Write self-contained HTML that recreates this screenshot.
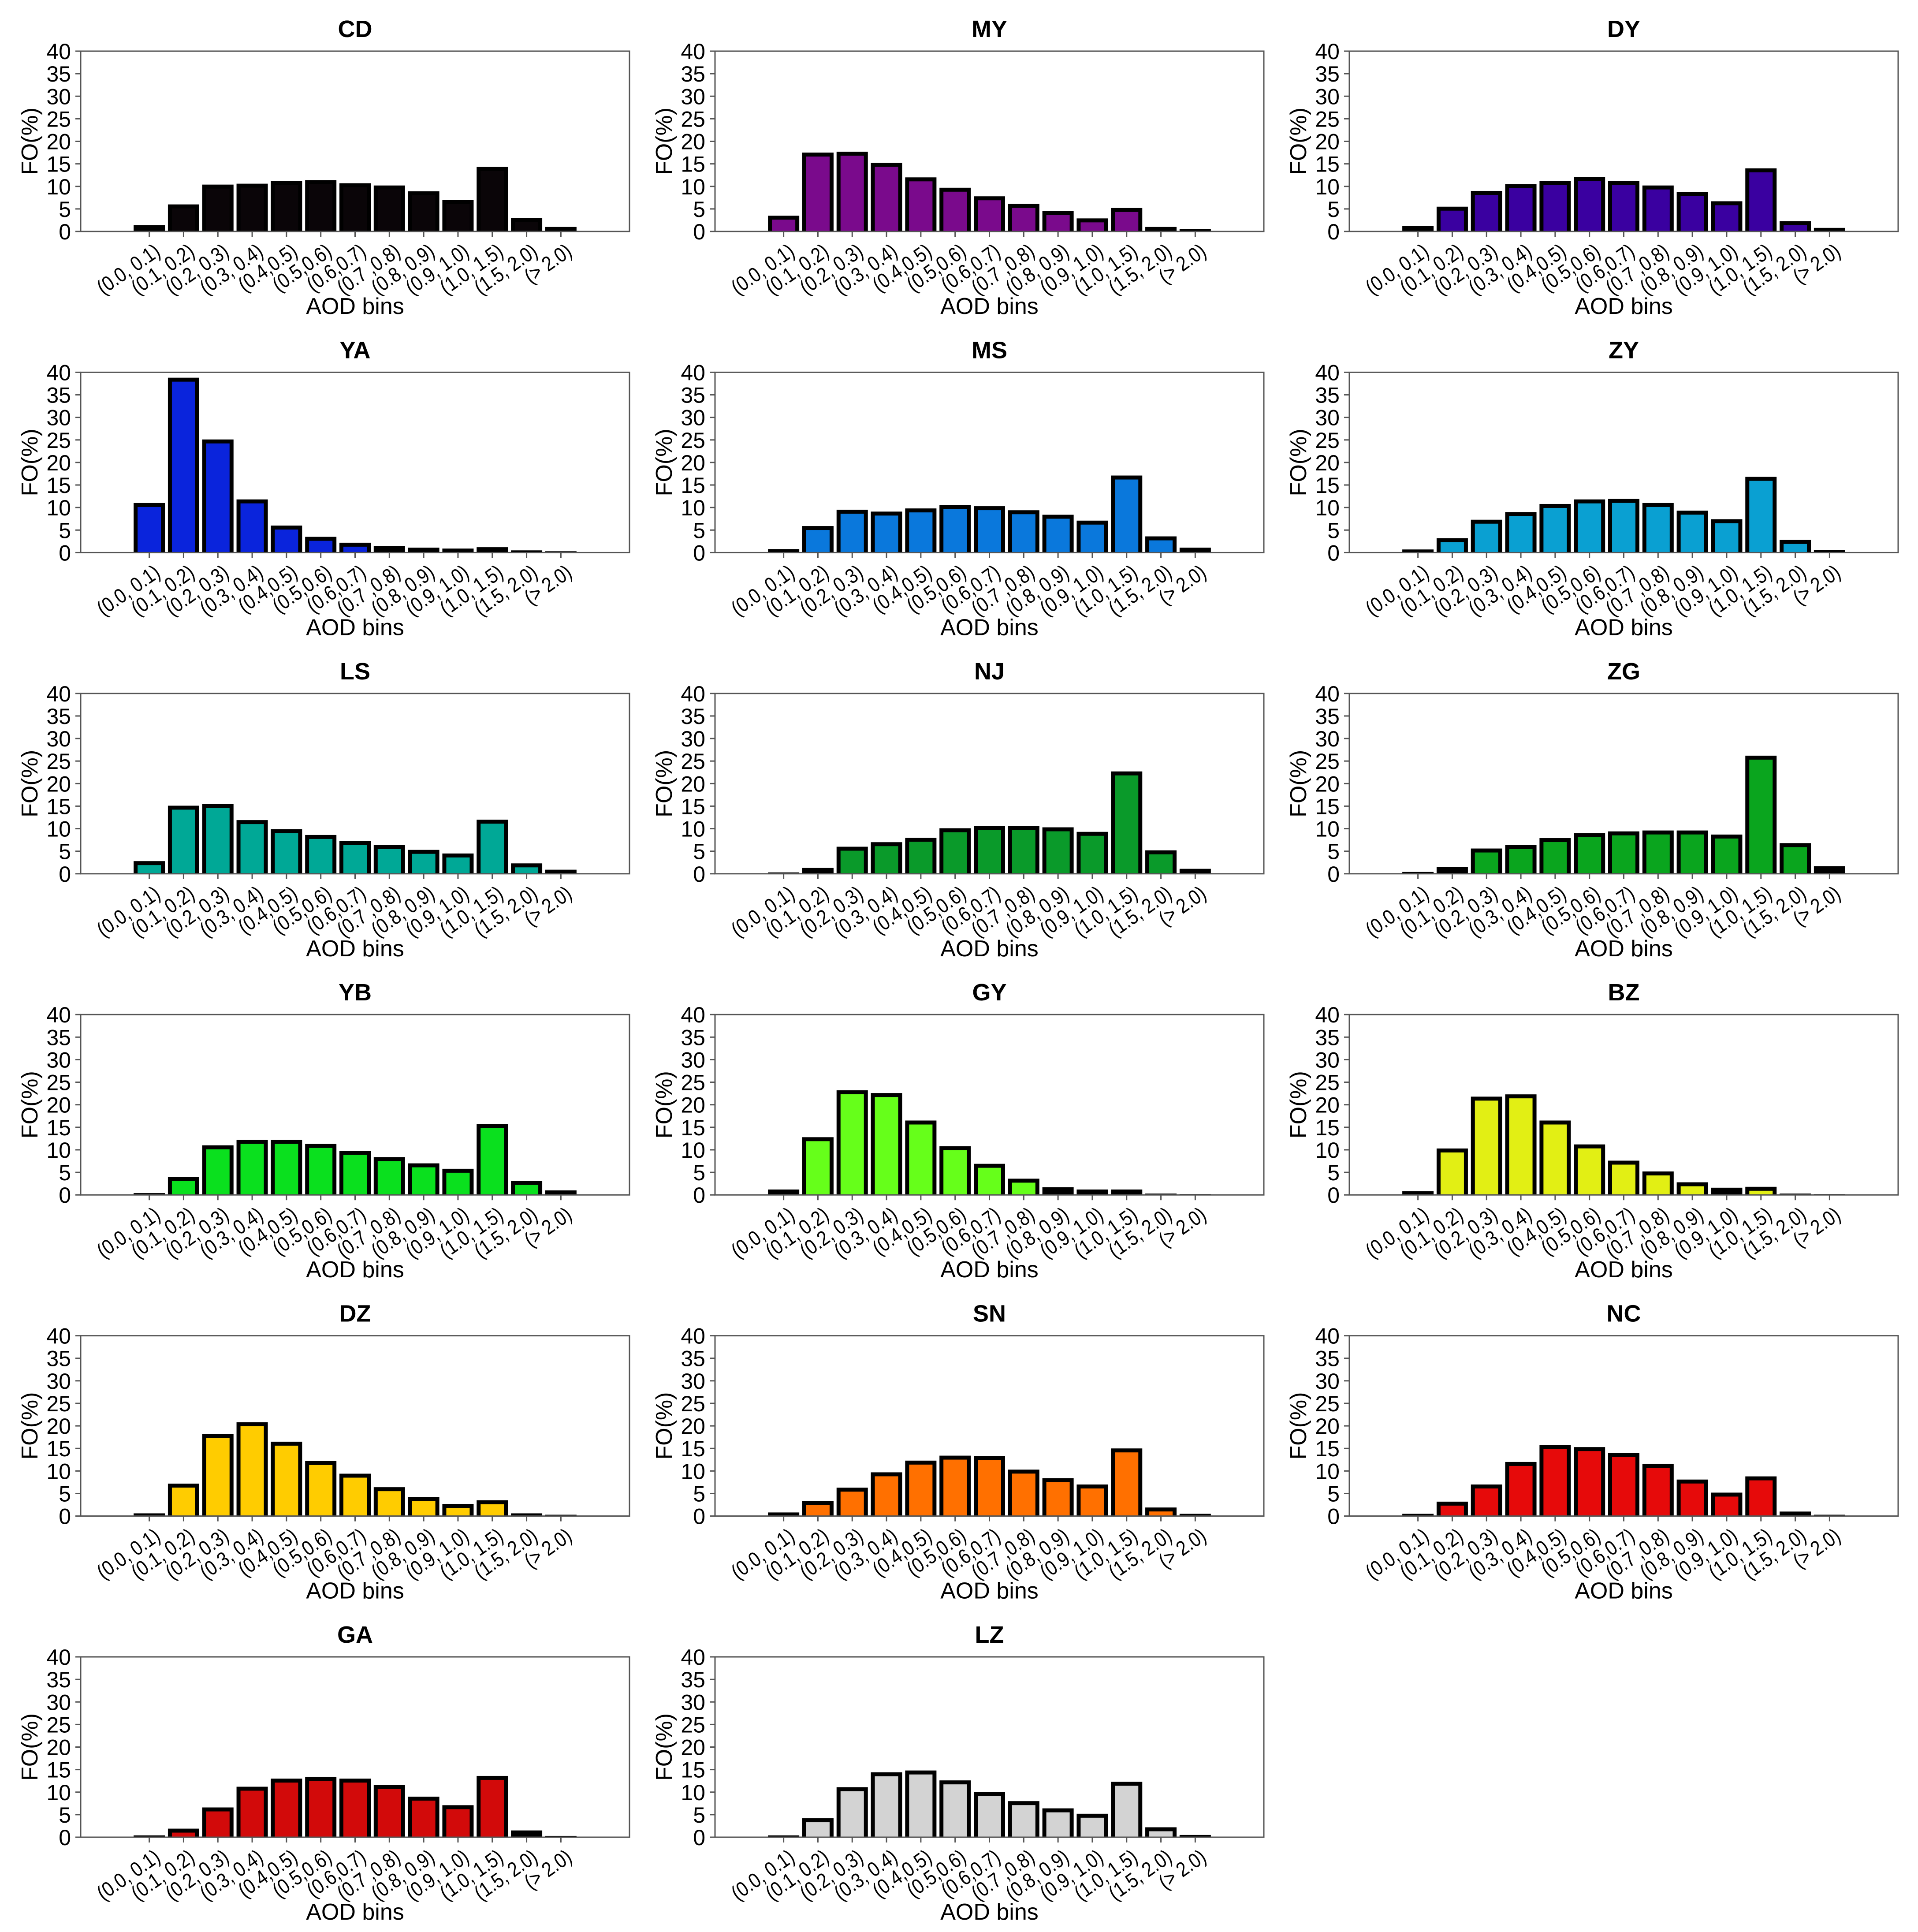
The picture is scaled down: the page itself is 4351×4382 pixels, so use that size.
<!DOCTYPE html>
<html><head><meta charset="utf-8">
<style>
html,body{margin:0;padding:0;background:#fff;}
svg{display:block;font-family:"Liberation Sans",Arial,sans-serif;}
</style></head>
<body>
<svg id="chart" width="4351" height="4382" viewBox="0 0 4351 4382" xmlns="http://www.w3.org/2000/svg"></svg>
<script>
const categories = ["(0.0, 0.1)","(0.1, 0.2)","(0.2, 0.3)","(0.3, 0.4)","(0.4,0.5)","(0.5,0.6)","(0.6,0.7)","(0.7 ,0.8)","(0.8, 0.9)","(0.9, 1.0)","(1.0, 1.5)","(1.5, 2.0)","(> 2.0)"];
const yTicks = [0,5,10,15,20,25,30,35,40];
const siteNames = ["CD","MY","DY","YA","MS","ZY","LS","NJ","ZG","YB","GY","BZ","DZ","SN","NC","GA","LZ"];
const siteColors = ["#0a0508","#7a0a8c","#3a00a0","#0a24dc","#0a78dc","#0aa0d2","#00a896","#0a9a2a","#0aa51e","#0ae01e","#66ff1a","#e2ef14","#ffcc00","#ff7000","#e60a0a","#d20a0a","#d3d3d3"];
const valCD = [1.4,6.0,10.4,10.6,11.2,11.4,10.7,10.2,8.9,7.0,14.3,3.0,1.0];
const valMY = [3.5,17.5,17.7,15.2,12.0,9.7,7.8,6.1,4.5,2.9,5.2,1.0,0.5];
const valDY = [1.2,5.5,9.0,10.5,11.2,12.1,11.2,10.2,8.8,6.7,14.0,2.3,0.8];
const valYA = [11.0,38.8,25.1,11.8,6.0,3.5,2.2,1.5,1.1,0.9,1.2,0.5,0.3];
const valMS = [0.8,5.9,9.5,9.1,9.8,10.6,10.3,9.4,8.4,7.1,17.1,3.6,1.1];
const valZY = [0.7,3.2,7.3,9.0,10.8,11.8,11.9,11.0,9.3,7.4,16.8,2.8,0.6];
const valLS = [2.8,15.1,15.5,11.9,9.9,8.6,7.3,6.4,5.3,4.5,12.0,2.3,0.9];
const valNJ = [0.3,1.3,6.0,7.0,8.0,10.1,10.6,10.6,10.3,9.3,22.7,5.2,1.1];
const valZG = [0.4,1.5,5.6,6.4,7.9,9.0,9.4,9.6,9.6,8.7,26.2,6.8,1.7];
const valYB = [0.4,4.0,11.0,12.2,12.2,11.3,9.8,8.4,7.0,5.8,15.7,3.1,1.0];
const valGY = [1.2,12.8,23.2,22.6,16.5,10.8,6.9,3.6,1.7,1.2,1.2,0.3,0.2];
const valBZ = [0.8,10.3,21.8,22.3,16.5,11.2,7.6,5.2,2.8,1.6,1.8,0.3,0.2];
const valDZ = [0.6,7.2,18.2,20.8,16.5,12.2,9.4,6.4,4.2,2.7,3.5,0.6,0.3];
const valSN = [0.8,3.3,6.3,9.7,12.3,13.4,13.3,10.3,8.4,7.0,15.0,1.9,0.5];
const valNC = [0.5,3.2,7.0,12.0,15.8,15.3,14.0,11.6,8.1,5.2,8.8,1.0,0.3];
const valGA = [0.4,1.9,6.6,11.2,13.0,13.4,13.0,11.6,9.0,7.1,13.6,1.5,0.3];
const valLZ = [0.4,4.2,11.1,14.4,14.8,12.6,10.0,8.0,6.4,5.2,12.3,2.2,0.5];
const allValues = [valCD,valMY,valDY,valYA,valMS,valZY,valLS,valNJ,valZG,valYB,valGY,valBZ,valDZ,valSN,valNC,valGA,valLZ];

const NS = "http://www.w3.org/2000/svg";
const svg = document.getElementById("chart");
const PW = 1245, PH = 409, YMAX = 40;
function mk(tag, attrs, parent){ const e=document.createElementNS(NS,tag); for(const k in attrs) e.setAttribute(k,attrs[k]); parent.appendChild(e); return e; }

siteNames.forEach((name, p) => {
  const col = p % 3, row = Math.floor(p / 3);
  const L = 183 + col * 1439, T = 116 + row * 728.4, B = T + PH;
  const slot = PW / 16;
  const xS = i => L + (i + 2) * slot;
  const yS = v => B - v / YMAX * PH;
  const g = mk("g", {}, svg);
  
  

  const title = mk("text", {x: L + PW/2, y: T - 32, "text-anchor":"middle", "font-size":"54", "font-weight":"bold"}, g);
  title.textContent = name;
  
  

  const vals = allValues[p];
  vals.forEach((v, i) => {
    const cx = xS(i), w = 71, top = yS(v), h = B - top;
    const outer = mk("rect", {x: cx - w/2, y: top, width: w, height: h, fill: "#000"}, g);
    
    
    const bw = 9;
    if (h > 2*bw && w > 2*bw) {
      mk("rect", {x: cx - w/2 + bw, y: top + bw, width: w - 2*bw, height: h - bw, fill: siteColors[p]}, g);
    }
  });

  const frame = mk("rect", {x: L, y: T, width: PW, height: PH, fill: "none", stroke: "#555", "stroke-width": 3}, g);
  
  

  yTicks.forEach(t => {
    const y = yS(t);
    mk("line", {x1: L - 12, x2: L, y1: y, y2: y, stroke: "#555", "stroke-width": 3}, g);
    const tl = mk("text", {x: L - 22, y: y + 18, "text-anchor": "end", "font-size": "50"}, g);
    tl.textContent = t;
    
    
  });

  categories.forEach((c, i) => {
    const x = xS(i);
    mk("line", {x1: x, x2: x, y1: B, y2: B + 12, stroke: "#555", "stroke-width": 3}, g);
    const ax = x + 28, ay = B + 52;
    const tl = mk("text", {x: 0, y: 0, "text-anchor": "end", "font-size": "47", transform: `translate(${ax} ${ay}) rotate(-35) scale(0.86 1)`}, g);
    tl.textContent = c;
    
    
  });

  const yl = mk("text", {x: 0, y: 0, "text-anchor": "middle", "font-size": "52", transform: `translate(${L - 98} ${T + PH/2}) rotate(-90)`}, g);
  yl.textContent = "FO(%)";
  
  

  const xl = mk("text", {x: L + PW/2, y: B + 187, "text-anchor": "middle", "font-size": "52"}, g);
  xl.textContent = "AOD bins";
  
  
});
</script>
</body></html>
